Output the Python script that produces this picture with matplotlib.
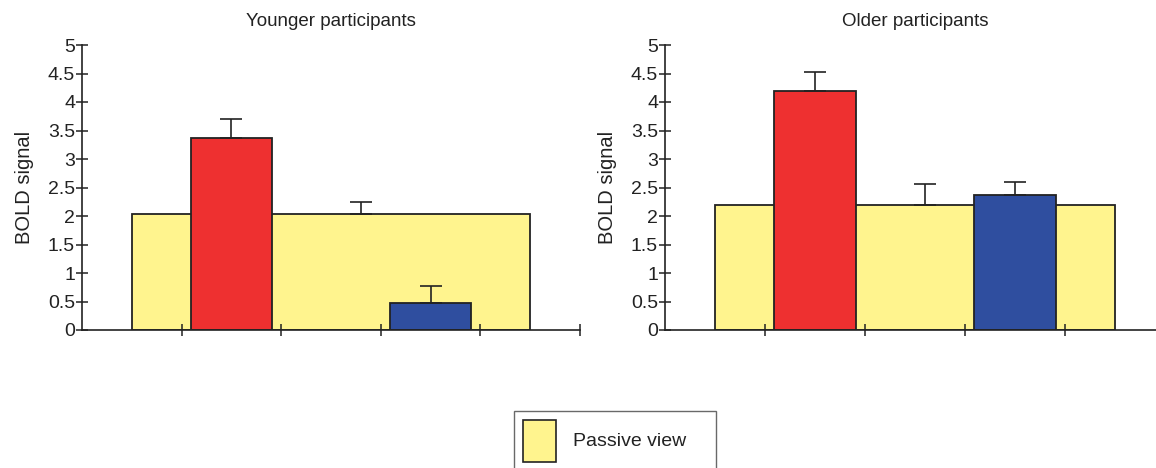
import matplotlib
matplotlib.use("Agg")
import matplotlib.pyplot as plt
from matplotlib.patches import Patch

plt.rcParams['font.family'] = ['Liberation Sans', 'DejaVu Sans']

# Data
panels = ["Younger participants", "Older participants"]
passive_view = [2.04, 2.20]
passive_err = [0.20, 0.36]
cond_red = [3.37, 4.19]
cond_red_err = [0.33, 0.34]
cond_blue = [0.47, 2.36]
cond_blue_err = [0.31, 0.23]
yticks = [0, 0.5, 1, 1.5, 2, 2.5, 3, 3.5, 4, 4.5, 5]
ytick_labels = ["0", "0.5", "1", "1.5", "2", "2.5", "3", "3.5", "4", "4.5", "5"]

YELLOW = "#FFF48E"
RED = "#EE3030"
BLUE = "#2F4E9F"

W, H = 1156, 468
fig = plt.figure(figsize=(W / 100, H / 100), dpi=100)

ax_px = [(82, 580), (665, 1165)]
yerr_x = [2.8, 2.6]
for i, title in enumerate(panels):
    x0, x1 = ax_px[i]
    ax = fig.add_axes([x0 / W, 1 - 330 / H, (x1 - x0) / W, (330 - 45) / H])
    ax.bar(2.5, passive_view[i], width=4.0, color=YELLOW, edgecolor="#222222", linewidth=1.3, zorder=1)
    ax.errorbar(yerr_x[i], passive_view[i], yerr=[[0], [passive_err[i]]], fmt="none",
                ecolor="#222222", elinewidth=1.2, capsize=8, capthick=1.2, zorder=3)
    ax.bar(1.5, cond_red[i], width=0.82, color=RED, edgecolor="#222222", linewidth=1.3, zorder=2)
    ax.errorbar(1.5, cond_red[i], yerr=[[0], [cond_red_err[i]]], fmt="none",
                ecolor="#222222", elinewidth=1.2, capsize=8, capthick=1.2, zorder=3)
    ax.bar(3.5, cond_blue[i], width=0.82, color=BLUE, edgecolor="#222222", linewidth=1.3, zorder=2)
    ax.errorbar(3.5, cond_blue[i], yerr=[[0], [cond_blue_err[i]]], fmt="none",
                ecolor="#222222", elinewidth=1.2, capsize=8, capthick=1.2, zorder=3)
    ax.set_xlim(0, 5)
    ax.set_ylim(0, 5)
    ax.set_yticks(yticks)
    ax.set_yticklabels(ytick_labels)
    ax.set_xticks([1, 2, 3, 4, 5])
    ax.set_xticklabels([])
    for s in ["top", "right"]:
        ax.spines[s].set_visible(False)
    for s in ["left", "bottom"]:
        ax.spines[s].set_linewidth(1.2)
        ax.spines[s].set_color("#222222")
    ax.tick_params(axis="both", direction="inout", length=8, width=1.1, color="#222222",
                   labelsize=14, labelcolor="#222222", pad=1)
    ax.set_ylabel("BOLD signal", fontsize=14.5, color="#222222", labelpad=10)
    ax.set_title(title, fontsize=13.5, color="#222222", pad=14)
    ax.set_facecolor("none")

leg = fig.legend(handles=[Patch(facecolor=YELLOW, edgecolor="#222222", linewidth=1.2)],
                 labels=["Passive view"], loc="upper left",
                 bbox_to_anchor=(514 / W, 1 - 411 / H, (716 - 514) / W, 0.0001),
                 mode="expand", fontsize=14, frameon=True, fancybox=False,
                 borderpad=0.45, borderaxespad=0, handlelength=1.7, handleheight=2.95,
                 handletextpad=0.9, labelcolor="#222222")
leg.get_frame().set_edgecolor("#444444")
leg.get_frame().set_linewidth(1.0)

fig.savefig("out.png", dpi=100)
